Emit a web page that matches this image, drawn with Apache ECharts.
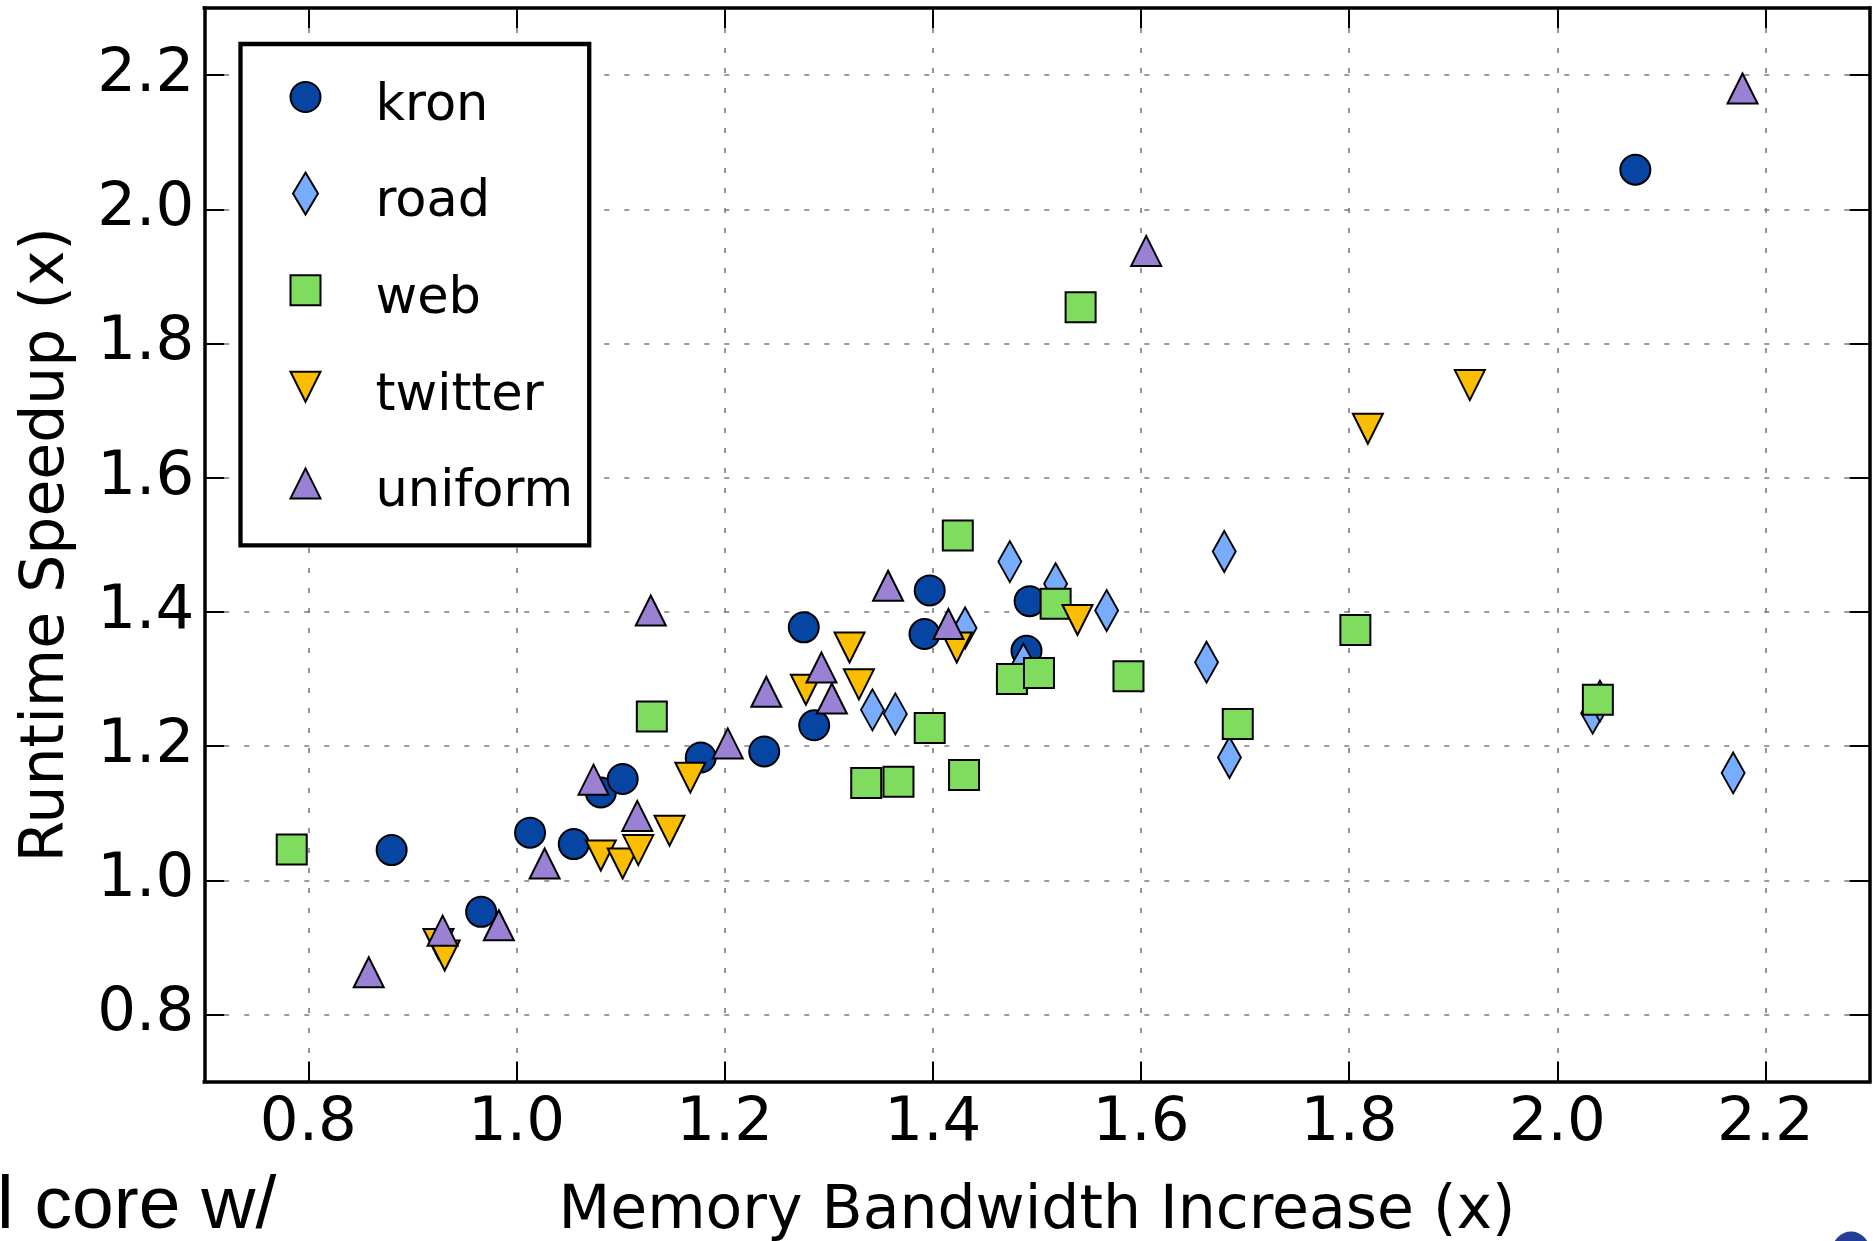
<!DOCTYPE html>
<html>
<head>
<meta charset="utf-8">
<title>Runtime Speedup vs Memory Bandwidth Increase</title>
<script src="https://cdn.jsdelivr.net/npm/echarts@6/dist/echarts.min.js"></script>
<style>
  html, body { margin: 0; padding: 0; background: #fff; }
  #chart { width: 1873px; height: 1241px; }
</style>
</head>
<body>
<div id="chart"></div>
<script>
// Measured speedup per input graph: [memory bandwidth increase, runtime speedup]
const kron = [
  [0.880, 1.045], [0.966, 0.953], [1.013, 1.071], [1.055, 1.054], [1.081, 1.131],
  [1.102, 1.151], [1.177, 1.183], [1.238, 1.192], [1.276, 1.377], [1.286, 1.231],
  [1.392, 1.367], [1.397, 1.432], [1.490, 1.342], [1.493, 1.416], [2.075, 2.059]
];
const road = [
  [1.342, 1.254], [1.364, 1.248], [1.431, 1.376], [1.474, 1.475], [1.487, 1.322],
  [1.518, 1.442], [1.567, 1.402], [1.663, 1.325], [1.680, 1.490], [1.685, 1.183],
  [2.034, 1.249], [2.041, 1.267], [2.169, 1.160]
];
const web = [
  [0.784, 1.046], [1.130, 1.244], [1.336, 1.145], [1.367, 1.147], [1.397, 1.227],
  [1.424, 1.514], [1.430, 1.157], [1.476, 1.300], [1.502, 1.309], [1.518, 1.412],
  [1.542, 1.854], [1.588, 1.304], [1.693, 1.233], [1.806, 1.373], [2.039, 1.269]
];
const twitter = [
  [0.925, 0.905], [0.931, 0.888], [1.081, 1.037], [1.102, 1.025], [1.117, 1.045],
  [1.147, 1.074], [1.167, 1.153], [1.278, 1.284], [1.320, 1.347], [1.329, 1.292],
  [1.423, 1.347], [1.539, 1.388], [1.818, 1.673], [1.916, 1.738]
];
const uniform = [
  [0.858, 0.863], [0.929, 0.925], [0.983, 0.933], [1.027, 1.025], [1.074, 1.150],
  [1.116, 1.096], [1.129, 1.402], [1.203, 1.204], [1.240, 1.281], [1.293, 1.317],
  [1.303, 1.271], [1.357, 1.439], [1.415, 1.382], [1.605, 1.938], [2.178, 2.180]
];

const seriesNames = ['kron', 'road', 'web', 'twitter', 'uniform'];
const xAxisTitle = 'Memory Bandwidth Increase (x)';
const yAxisTitle = 'Runtime Speedup (x)';
const axisMin = 0.7;
const axisMax = 2.3;
const captionFragment = 'l core w/';

const FONT = 'DejaVu Sans';
const EDGE = '#000';

// Marker look for each graph
const markers = {
  kron:    { color: '#0645a2', symbol: 'circle',   size: 30, rotate: 0,
             icon: 'path://M0,15A15,15,0,1,1,30,15A15,15,0,1,1,0,15Z' },
  road:    { color: '#78acff', symbol: 'diamond',  size: [23, 41], rotate: 0,
             icon: 'path://M12.5,0L25,21L12.5,42L0,21Z' },
  web:     { color: '#80dc5e', symbol: 'rect',     size: 30, rotate: 0,
             icon: 'path://M0,0H30V30H0Z' },
  twitter: { color: '#fabd00', symbol: 'triangle', size: 30, rotate: 180,
             icon: 'path://M0,0H31L15.5,31Z' },
  uniform: { color: '#9b81d3', symbol: 'triangle', size: 30, rotate: 0,
             icon: 'path://M15.5,0L31,31H0Z' }
};
const seriesData = { kron, road, web, twitter, uniform };

const frameLine = { color: EDGE, width: 3.5, cap: 'square' };
const innerTicks = { show: true, inside: true, length: 20, lineStyle: { color: EDGE, width: 2 } };
const dottedGrid = { show: true, showMinLine: false, showMaxLine: false,
                     lineStyle: { color: '#7a7a7a', width: 1.6, type: [5, 15] } };

function valueAxis(extra) {
  return Object.assign({
    type: 'value', min: axisMin, max: axisMax, splitNumber: 8,
    axisLine: { show: true, onZero: false, lineStyle: frameLine },
    axisTick: innerTicks
  }, extra);
}

const chart = echarts.init(document.getElementById('chart'), null, { renderer: 'canvas' });

chart.setOption({
  animation: false,
  backgroundColor: '#fff',
  grid: { left: 204.3, right: 3.5, top: 8, bottom: 159.4,
          containLabel: false, outerBoundsMode: 'none' },
  xAxis: [
    valueAxis({
      position: 'bottom',
      name: xAxisTitle, nameLocation: 'middle', nameGap: 101,
      nameTextStyle: { fontFamily: FONT, fontSize: 60, color: EDGE },
      axisLabel: { show: true, margin: 12, fontFamily: FONT, fontSize: 61, color: EDGE,
                   showMinLabel: false, showMaxLabel: false,
                   formatter: v => v.toFixed(1) },
      splitLine: dottedGrid
    }),
    valueAxis({ position: 'top', axisLabel: { show: false }, splitLine: { show: false } })
  ],
  yAxis: [
    valueAxis({
      position: 'left',
      name: yAxisTitle, nameLocation: 'middle', nameGap: 127,
      nameTextStyle: { fontFamily: FONT, fontSize: 60, color: EDGE },
      axisLabel: { show: true, margin: 10, fontFamily: FONT, fontSize: 61, color: EDGE,
                   showMinLabel: false, showMaxLabel: false,
                   formatter: v => v.toFixed(1) },
      splitLine: dottedGrid
    }),
    valueAxis({ position: 'right', axisLabel: { show: false }, splitLine: { show: false } })
  ],
  legend: {
    orient: 'vertical',
    left: 240.5, top: 44,
    padding: [18, 16, 27, 49],
    itemWidth: 30, itemHeight: 42, itemGap: 26.6,
    backgroundColor: '#fff',
    borderColor: EDGE, borderWidth: 4.3,
    selectedMode: false,
    symbolKeepAspect: true,
    itemStyle: { borderWidth: 2, borderColor: EDGE },
    // a thin spacer line above each name sets the name slightly below its marker
    formatter: '{s| }\n{t|{name}}',
    textStyle: {
      fontFamily: FONT, fontSize: 51, color: EDGE,
      rich: {
        s: { fontSize: 10, height: 19, lineHeight: 19 },
        t: { fontFamily: FONT, fontSize: 51, lineHeight: 51, color: EDGE, padding: [0, 0, 0, 50] }
      }
    },
    data: seriesNames.map(n => ({ name: n, icon: markers[n].icon }))
  },
  series: seriesNames.map(n => ({
    name: n,
    type: 'scatter',
    xAxisIndex: 0, yAxisIndex: 0,
    data: seriesData[n],
    symbol: markers[n].symbol,
    symbolSize: markers[n].size,
    symbolRotate: markers[n].rotate,
    itemStyle: { color: markers[n].color, borderColor: EDGE, borderWidth: 2, opacity: 1 },
    emphasis: { disabled: true },
    silent: true
  })),
  graphic: [
    {
      type: 'text', left: -3, top: 1170,
      style: { text: captionFragment, fontFamily: 'Liberation Sans', fontSize: 75, fill: '#000' }
    },
    {
      type: 'circle', shape: { cx: 1851, cy: 1250, r: 18.5 },
      style: { fill: '#213f97' }
    }
  ]
});
</script>
</body>
</html>
